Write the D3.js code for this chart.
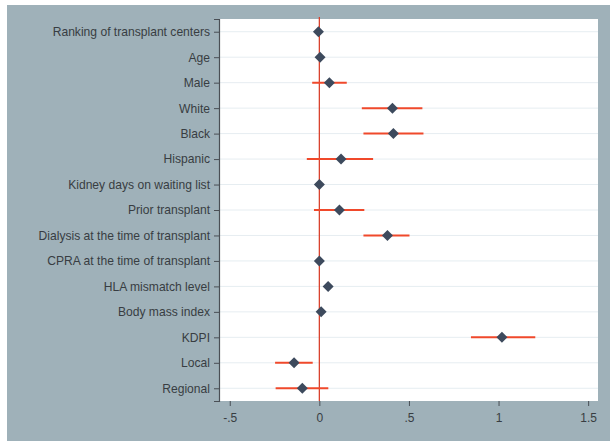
<!DOCTYPE html>
<html>
<head>
<meta charset="utf-8">
<script src="https://cdn.jsdelivr.net/npm/d3@7"></script>
<style>
  body { margin: 0; background: #ffffff; }
  text { font-family: "Liberation Sans", Arial, sans-serif; }
</style>
</head>
<body>
<div id="chart"></div>
<script>
// coefficients with 95% CI
const variables = [
  "Ranking of transplant centers", "Age", "Male", "White", "Black", "Hispanic",
  "Kidney days on waiting list", "Prior transplant", "Dialysis at the time of transplant",
  "CPRA at the time of transplant", "HLA mismatch level", "Body mass index",
  "KDPI", "Local", "Regional"
];
const estimates = [-0.005, 0.004, 0.056, 0.408, 0.413, 0.121, 0, 0.112, 0.38, 0, 0.049, 0.01, 1.019, -0.141, -0.095];
const lower = [-0.005, 0.004, -0.04, 0.237, 0.246, -0.07, 0, -0.03, 0.246, 0, 0.049, 0.01, 0.846, -0.247, -0.244];
const upper = [-0.005, 0.004, 0.153, 0.575, 0.581, 0.30, 0, 0.251, 0.503, 0, 0.049, 0.01, 1.205, -0.037, 0.05];
const xTicks = [-0.5, 0, 0.5, 1, 1.5];
const xTickLabels = ["-.5", "0", ".5", "1", "1.5"];

const width = 610, height = 441;
const margin = { top: 19, right: 12, bottom: 40, left: 219 };

const svg = d3.select("#chart").append("svg")
  .attr("width", width)
  .attr("height", height);

// graph region background
svg.append("rect")
  .attr("x", 7).attr("y", 5)
  .attr("width", width - 7).attr("height", height - 5)
  .attr("fill", "#9fb1b9");

const x = d3.scaleLinear()
  .domain([-0.56, 1.555])
  .range([margin.left, width - margin.right]);

const y = d3.scalePoint()
  .domain(variables)
  .range([margin.top, height - margin.bottom])
  .padding(0.5);

// plot area
svg.append("rect")
  .attr("x", margin.left).attr("y", margin.top)
  .attr("width", width - margin.right - margin.left)
  .attr("height", height - margin.bottom - margin.top)
  .attr("fill", "#ffffff");

// faint gridlines
svg.append("g")
  .selectAll("line")
  .data(variables)
  .join("line")
  .attr("x1", margin.left).attr("x2", width - margin.right)
  .attr("y1", d => y(d)).attr("y2", d => y(d))
  .attr("stroke", "#e6edf1")
  .attr("stroke-width", 1);

// reference line at zero
svg.append("line")
  .attr("x1", x(0)).attr("x2", x(0))
  .attr("y1", margin.top - 2).attr("y2", height - margin.bottom)
  .attr("stroke", "#d9432e")
  .attr("stroke-width", 1.3);

// y axis
const yAxis = svg.append("g")
  .attr("transform", `translate(${margin.left},0)`)
  .call(d3.axisLeft(y).tickSize(5).tickPadding(4));
yAxis.select(".domain").attr("stroke", "#4a4f55").attr("stroke-width", 1.2);
yAxis.selectAll(".tick line").attr("stroke", "#4a4f55");
yAxis.selectAll(".tick text")
  .attr("fill", "#383d42")
  .attr("font-size", 12.1)
  .attr("font-family", "Liberation Sans, Arial, sans-serif");

// x axis
const xAxis = svg.append("g")
  .attr("transform", `translate(0,${height - margin.bottom})`)
  .call(d3.axisBottom(x).tickValues(xTicks).tickFormat((d, i) => xTickLabels[i]).tickSize(5).tickPadding(7));
xAxis.select(".domain").remove();
xAxis.selectAll(".tick line").attr("stroke", "#4a4f55");
xAxis.selectAll(".tick text")
  .attr("fill", "#383d42")
  .attr("font-size", 12)
  .attr("font-family", "Liberation Sans, Arial, sans-serif");

// confidence intervals
svg.append("g")
  .selectAll("line")
  .data(variables)
  .join("line")
  .attr("x1", (d, i) => x(lower[i]))
  .attr("x2", (d, i) => x(upper[i]))
  .attr("y1", d => y(d)).attr("y2", d => y(d))
  .attr("stroke", "#f0492b")
  .attr("stroke-width", 2);

// point estimates
svg.append("g")
  .selectAll("path")
  .data(variables)
  .join("path")
  .attr("transform", (d, i) => `translate(${x(estimates[i])},${y(d)})`)
  .attr("d", "M0,-5.5L5.5,0L0,5.5L-5.5,0Z")
  .attr("fill", "#3d4a5d");
</script>
</body>
</html>
